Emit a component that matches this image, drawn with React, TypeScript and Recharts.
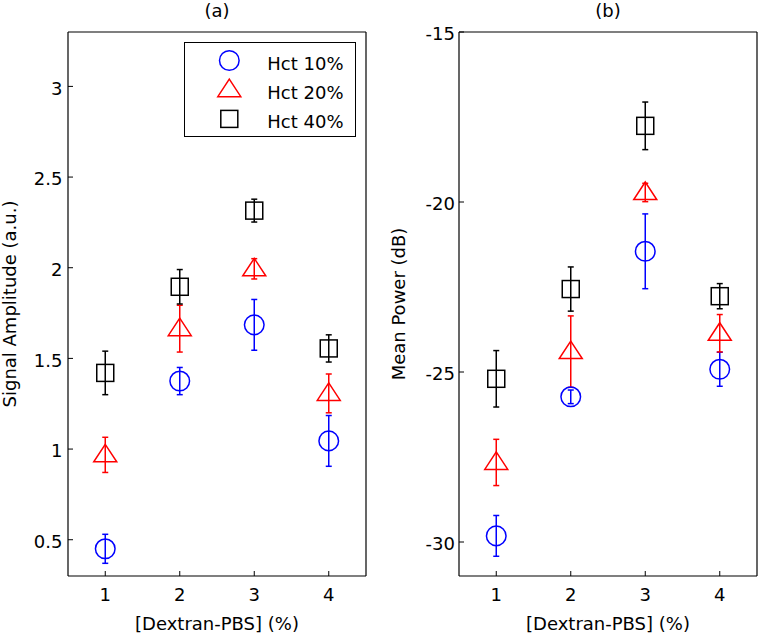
import { ErrorBar, Legend, Scatter, ScatterChart, XAxis, YAxis } from "recharts";

const FONT = "DejaVu Sans";
const BLUE = "#0000ff";
const RED = "#ff0000";
const BLACK = "#000000";

// [Dextran-PBS] concentration (%)
const dextran = [1, 2, 3, 4];
const xTicks = [1, 2, 3, 4];

// (a) signal amplitude, a.u.
const ampHct10 = [0.45, 1.375, 1.685, 1.045];
const ampHct10Err = [0.08, 0.075, 0.14, 0.14];
const ampHct20 = [0.968, 1.664, 1.994, 1.307];
const ampHct20Err = [0.097, 0.129, 0.056, 0.107];
const ampHct40 = [1.42, 1.895, 2.315, 1.555];
const ampHct40Err = [0.12, 0.095, 0.063, 0.075];
const ampTicks = [0.5, 1, 1.5, 2, 2.5, 3];

// (b) mean power, dB
const powHct10 = [-29.82, -25.73, -21.45, -24.92];
const powHct10Err = [0.6, 0.2, 1.1, 0.5];
const powHct20 = [-27.66, -24.4, -19.72, -23.86];
const powHct20Err = [0.68, 1.05, 0.27, 0.55];
const powHct40 = [-25.2, -22.56, -17.76, -22.77];
const powHct40Err = [0.83, 0.65, 0.7, 0.37];
const powTicks = [-30, -25, -20, -15];

const seriesNames = ["Hct 10%", "Hct 20%", "Hct 40%"];

const toRows = (ys: number[], errs: number[]) =>
  dextran.map((x, i) => ({ x, y: ys[i], err: errs[i] }));

const ampSeries = [
  { name: seriesNames[0], rows: toRows(ampHct10, ampHct10Err) },
  { name: seriesNames[1], rows: toRows(ampHct20, ampHct20Err) },
  { name: seriesNames[2], rows: toRows(ampHct40, ampHct40Err) },
];

const powSeries = [
  { name: seriesNames[0], rows: toRows(powHct10, powHct10Err) },
  { name: seriesNames[1], rows: toRows(powHct20, powHct20Err) },
  { name: seriesNames[2], rows: toRows(powHct40, powHct40Err) },
];

const colorOf: Record<string, string> = {
  "Hct 10%": BLUE,
  "Hct 20%": RED,
  "Hct 40%": BLACK,
};

function Marker({ kind, cx, cy }: { kind: string; cx: number; cy: number }) {
  const stroke = colorOf[kind];
  if (kind === "Hct 10%") {
    return <circle cx={cx} cy={cy} r={9.8} fill="none" stroke={stroke} strokeWidth={1.5} />;
  }
  if (kind === "Hct 20%") {
    return (
      <path
        d={`M${cx} ${cy - 10.5}L${cx + 11.5} ${cy + 7}L${cx - 11.5} ${cy + 7}Z`}
        fill="none"
        stroke={stroke}
        strokeWidth={1.5}
      />
    );
  }
  return <rect x={cx - 8.5} y={cy - 8.5} width={17} height={17} fill="none" stroke={stroke} strokeWidth={1.5} />;
}

function LegendBox({ payload }: any) {
  const items = (payload ?? []).filter((p: any) => colorOf[p.value]);
  return (
    <div
      style={{
        width: 172,
        height: 95,
        border: "1px solid #000",
        background: "#fff",
        boxSizing: "border-box",
      }}
    >
      <svg width={170} height={93} style={{ display: "block" }}>
        {items.map((p: any, i: number) => (
          <g key={p.value}>
            <Marker kind={p.value} cx={44.3} cy={17.5 + i * 29.2} />
            <text x={82.3} y={26.8 + i * 29} fontFamily={FONT} fontSize={18} fill="#000">
              {p.value}
            </text>
          </g>
        ))}
      </svg>
    </div>
  );
}

const tickText = { fontFamily: FONT, fontSize: 18, fill: "#000" };

type PanelProps = {
  width: number;
  yAxisWidth: number;
  marginRight: number;
  domain: [number, number];
  yTicks: number[];
  yTickMargin: number;
  title: string;
  yLabel: string;
  yLabelX: number;
  series: { name: string; rows: { x: number; y: number; err: number }[] }[];
  legend?: boolean;
};

function Panel({ width, yAxisWidth, marginRight, domain, yTicks, yTickMargin, title, yLabel, yLabelX, series, legend }: PanelProps) {
  return (
    <ScatterChart width={width} height={633} margin={{ top: 31, right: marginRight, bottom: 0, left: 0 }}>
      <XAxis
        dataKey="x"
        type="number"
        domain={[0.5, 4.5]}
        ticks={xTicks}
        interval={0}
        allowDataOverflow
        height={57}
        tickSize={-5}
        tickMargin={17}
        tick={tickText}
        axisLine={{ stroke: "#000", strokeWidth: 1.2 }}
        tickLine={{ stroke: "#000" }}
        label={(p: any) => {
          const vb = p.viewBox;
          return (
            <text x={vb.x + vb.width / 2} y={vb.y + 54} textAnchor="middle" {...tickText}>
              [Dextran-PBS] (%)
            </text>
          );
        }}
      />
      <XAxis
        xAxisId="top"
        orientation="top"
        type="number"
        domain={[0.5, 4.5]}
        ticks={xTicks}
        interval={0}
        allowDataOverflow
        height={1}
        tickSize={-5}
        tick={false}
        axisLine={{ stroke: "#000", strokeWidth: 1.2 }}
        tickLine={{ stroke: "#000" }}
        label={(p: any) => {
          const vb = p.viewBox;
          return (
            <text x={vb.x + vb.width / 2} y={vb.y - 14} textAnchor="middle" {...tickText}>
              {title}
            </text>
          );
        }}
      />
      <YAxis
        dataKey="y"
        type="number"
        domain={domain}
        ticks={yTicks}
        interval={0}
        allowDataOverflow
        width={yAxisWidth}
        tickSize={-5}
        tickMargin={yTickMargin}
        tick={{ ...tickText, dy: 2 }}
        axisLine={{ stroke: "#000", strokeWidth: 1.2 }}
        tickLine={{ stroke: "#000" }}
        label={(p: any) => {
          const vb = p.viewBox;
          const x = vb.x + yLabelX;
          const y = vb.y + vb.height / 2;
          return (
            <text x={x} y={y} textAnchor="middle" transform={`rotate(-90, ${x}, ${y})`} {...tickText}>
              {yLabel}
            </text>
          );
        }}
      />
      <YAxis
        yAxisId="right"
        orientation="right"
        type="number"
        domain={domain}
        ticks={yTicks}
        interval={0}
        allowDataOverflow
        width={1}
        tickSize={-5}
        tick={false}
        axisLine={{ stroke: "#000", strokeWidth: 1.2 }}
        tickLine={{ stroke: "#000" }}
      />
      {series.map((s) => (
        <Scatter
          key={s.name}
          name={s.name}
          data={s.rows}
          fill={colorOf[s.name]}
          isAnimationActive={false}
          shape={(p: any) => <Marker kind={s.name} cx={p.cx} cy={p.cy} />}
        >
          <ErrorBar
            dataKey="err"
            direction="y"
            width={3}
            stroke={colorOf[s.name]}
            strokeWidth={1.5}
            isAnimationActive={false}
          />
        </Scatter>
      ))}
      {legend && (
        <Legend
          layout="vertical"
          align="center"
          verticalAlign="middle"
          wrapperStyle={{ left: 184, top: 42, width: 172, height: 95 }}
          content={<LegendBox />}
        />
      )}
    </ScatterChart>
  );
}

export default function App() {
  return (
    <div
      style={{
        position: "absolute",
        left: 0,
        top: 0,
        width: 759,
        height: 633,
        background: "#fff",
        fontFamily: FONT,
      }}
    >
      <div style={{ position: "absolute", left: 0, top: 0 }}>
        <Panel
          width={380}
          yAxisWidth={68}
          marginRight={13}
          domain={[0.3, 3.3]}
          yTicks={ampTicks}
          yTickMargin={10.5}
          title="(a)"
          yLabel="Signal Amplitude (a.u.)"
          yLabelX={16}
          series={ampSeries}
          legend
        />
      </div>
      <div style={{ position: "absolute", left: 380, top: 0 }}>
        <Panel
          width={379}
          yAxisWidth={79}
          marginRight={1}
          domain={[-31, -15]}
          yTicks={powTicks}
          yTickMargin={9}
          title="(b)"
          yLabel="Mean Power (dB)"
          yLabelX={25}
          series={powSeries}
        />
      </div>
    </div>
  );
}
